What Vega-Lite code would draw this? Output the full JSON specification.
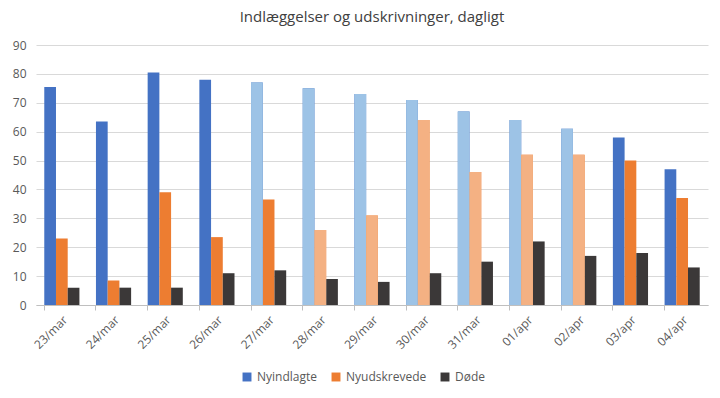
{
  "$schema": "https://vega.github.io/schema/vega-lite/v6.json",
  "autosize": "none",
  "width": 672,
  "height": 260,
  "padding": {"left": 36, "top": 45, "right": 12, "bottom": 93},
  "background": "white",
  "title": {"text": "Indlæggelser og udskrivninger, dagligt", "fontSize": 15, "font": "Open Sans", "fontWeight": "normal", "color": "#404040", "anchor": "middle", "offset": 14},
  "config": {"view": {"stroke": null}, "font": "Open Sans"},
  "data": {"values": [
    {"dato": "23/mar", "serie": "Nyindlagte", "antal": 75.5, "markering": "normal"},
    {"dato": "23/mar", "serie": "Nyudskrevede", "antal": 23, "markering": "normal"},
    {"dato": "23/mar", "serie": "Døde", "antal": 6, "markering": "normal"},
    {"dato": "24/mar", "serie": "Nyindlagte", "antal": 63.5, "markering": "normal"},
    {"dato": "24/mar", "serie": "Nyudskrevede", "antal": 8.5, "markering": "normal"},
    {"dato": "24/mar", "serie": "Døde", "antal": 6, "markering": "normal"},
    {"dato": "25/mar", "serie": "Nyindlagte", "antal": 80.5, "markering": "normal"},
    {"dato": "25/mar", "serie": "Nyudskrevede", "antal": 39, "markering": "normal"},
    {"dato": "25/mar", "serie": "Døde", "antal": 6, "markering": "normal"},
    {"dato": "26/mar", "serie": "Nyindlagte", "antal": 78, "markering": "normal"},
    {"dato": "26/mar", "serie": "Nyudskrevede", "antal": 23.5, "markering": "normal"},
    {"dato": "26/mar", "serie": "Døde", "antal": 11, "markering": "normal"},
    {"dato": "27/mar", "serie": "Nyindlagte", "antal": 77, "markering": "lys"},
    {"dato": "27/mar", "serie": "Nyudskrevede", "antal": 36.5, "markering": "normal"},
    {"dato": "27/mar", "serie": "Døde", "antal": 12, "markering": "normal"},
    {"dato": "28/mar", "serie": "Nyindlagte", "antal": 75, "markering": "lys"},
    {"dato": "28/mar", "serie": "Nyudskrevede", "antal": 26, "markering": "lys"},
    {"dato": "28/mar", "serie": "Døde", "antal": 9, "markering": "normal"},
    {"dato": "29/mar", "serie": "Nyindlagte", "antal": 73, "markering": "lys"},
    {"dato": "29/mar", "serie": "Nyudskrevede", "antal": 31, "markering": "lys"},
    {"dato": "29/mar", "serie": "Døde", "antal": 8, "markering": "normal"},
    {"dato": "30/mar", "serie": "Nyindlagte", "antal": 71, "markering": "lys"},
    {"dato": "30/mar", "serie": "Nyudskrevede", "antal": 64, "markering": "lys"},
    {"dato": "30/mar", "serie": "Døde", "antal": 11, "markering": "normal"},
    {"dato": "31/mar", "serie": "Nyindlagte", "antal": 67, "markering": "lys"},
    {"dato": "31/mar", "serie": "Nyudskrevede", "antal": 46, "markering": "lys"},
    {"dato": "31/mar", "serie": "Døde", "antal": 15, "markering": "normal"},
    {"dato": "01/apr", "serie": "Nyindlagte", "antal": 64, "markering": "lys"},
    {"dato": "01/apr", "serie": "Nyudskrevede", "antal": 52, "markering": "lys"},
    {"dato": "01/apr", "serie": "Døde", "antal": 22, "markering": "normal"},
    {"dato": "02/apr", "serie": "Nyindlagte", "antal": 61, "markering": "lys"},
    {"dato": "02/apr", "serie": "Nyudskrevede", "antal": 52, "markering": "lys"},
    {"dato": "02/apr", "serie": "Døde", "antal": 17, "markering": "normal"},
    {"dato": "03/apr", "serie": "Nyindlagte", "antal": 58, "markering": "normal"},
    {"dato": "03/apr", "serie": "Nyudskrevede", "antal": 50, "markering": "normal"},
    {"dato": "03/apr", "serie": "Døde", "antal": 18, "markering": "normal"},
    {"dato": "04/apr", "serie": "Nyindlagte", "antal": 47, "markering": "normal"},
    {"dato": "04/apr", "serie": "Nyudskrevede", "antal": 37, "markering": "normal"},
    {"dato": "04/apr", "serie": "Døde", "antal": 13, "markering": "normal"}
  ]},
  "encoding": {
    "x": {"field": "dato", "type": "nominal", "sort": null,
      "scale": {"paddingInner": 0.32, "paddingOuter": 0.16},
      "axis": {"title": null, "labelAngle": -45, "labelFontSize": 12, "labelColor": "#595959", "labelPadding": 4,
        "domainColor": "#BFBFBF", "tickColor": "#BFBFBF", "bandPosition": 0, "tickSize": 5, "grid": false}},
    "xOffset": {"field": "serie", "type": "nominal", "sort": ["Nyindlagte", "Nyudskrevede", "Døde"], "scale": {"paddingInner": 0}},
    "y": {"field": "antal", "type": "quantitative",
      "scale": {"domain": [0, 90]},
      "axis": {"title": null, "values": [0,10,20,30,40,50,60,70,80,90], "labelFontSize": 12, "labelColor": "#595959",
        "domain": false, "ticks": false, "gridColor": "#D9D9D9", "gridWidth": 1, "labelPadding": 10}}
  },
  "layer": [
    {
      "mark": {"type": "bar"},
      "encoding": {
        "color": {"field": "serie", "type": "nominal", "sort": ["Nyindlagte", "Nyudskrevede", "Døde"],
          "scale": {"domain": ["Nyindlagte", "Nyudskrevede", "Døde"], "range": ["#4472C4", "#ED7D31", "#3B3838"]},
          "legend": {"title": null, "orient": "none", "legendX": 205, "legendY": 326, "direction": "horizontal",
            "symbolType": "square", "symbolSize": 80, "labelFontSize": 12, "labelColor": "#595959", "columnPadding": 12, "symbolStrokeWidth": 0}}
      }
    },
    {
      "transform": [{"filter": "datum.markering === 'lys'"}],
      "mark": {"type": "bar"},
      "encoding": {
        "color": {"field": "serie", "type": "nominal",
          "scale": {"domain": ["Nyindlagte", "Nyudskrevede"], "range": ["#9DC3E6", "#F4B183"]},
          "legend": null}
      }
    }
  ],
  "resolve": {"scale": {"color": "independent"}}
}
